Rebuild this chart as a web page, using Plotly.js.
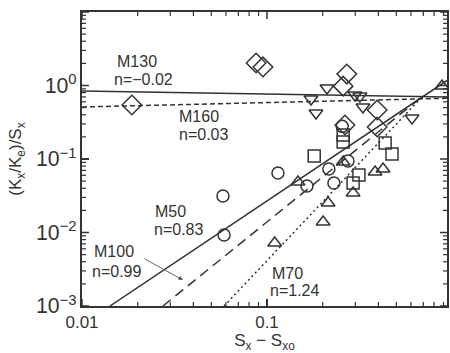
<!DOCTYPE html>
<html>
<head>
<meta charset="utf-8">
<script src="https://cdn.plot.ly/plotly-3.0.1.min.js"></script>
<style>html,body{margin:0;padding:0;background:#fff;}#chart{width:450px;height:353px;}</style>
</head>
<body>
<div id="chart"></div>
<script>
// ---- data ----
var diamondX = [0.0186, 0.0873, 0.0951, 0.270, 0.258, 0.264, 0.394, 0.394];
var diamondY = [0.543, 2.02, 1.79, 1.43, 0.98, 0.290, 0.465, 0.272];

var triDownX = [0.211, 0.173, 0.184, 0.299, 0.318, 0.330, 0.608];
var triDownY = [0.925, 0.655, 0.423, 0.743, 0.720, 0.509, 0.361];

var squareX = [0.258, 0.258, 0.180, 0.435, 0.474, 0.314, 0.292];
var squareY = [0.212, 0.170, 0.110, 0.165, 0.117, 0.0605, 0.0471];

var circleX = [0.0578, 0.0586, 0.1146, 0.1644, 0.216, 0.274, 0.230, 0.255];
var circleY = [0.0314, 0.00925, 0.0646, 0.0430, 0.0731, 0.094, 0.0471, 0.278];

var triUpX = [0.147, 0.258, 0.214, 0.201, 0.110, 0.292, 0.384, 0.424, 0.883];
var triUpY = [0.0486, 0.091, 0.0252, 0.0139, 0.00719, 0.0344, 0.0665, 0.0731, 0.985];

// fitted lines (end points)
var m130X = [0.01, 0.94], m130Y = [0.84, 0.70];
var m160X = [0.01, 0.94], m160Y = [0.51, 0.67];
var m50X  = [0.01416, 0.94], m50Y = [0.001, 1.17];
var m100X = [0.0274, 0.70], m100Y = [0.001, 0.73];
var m70X  = [0.0586, 0.70], m70Y = [0.001, 0.73];

// axis ticks
var xDecades = [0.01, 0.1];
var yDecades = [0.001, 0.01, 0.1, 1, 10];
var minorDigits = [2, 3, 4, 5, 6, 7, 8, 9];
var yLabelAlias = {'1': '10<sup>0</sup>', '10': '10<sup>1</sup>'};

var labels = [
  {t: 'M130', x: 0.090, y: 0.833},
  {t: 'n=\u22120.02', x: 0.082, y: 0.769},
  {t: 'M160', x: 0.260, y: 0.646},
  {t: 'n=0.03', x: 0.260, y: 0.585},
  {t: 'M50', x: 0.1945, y: 0.323},
  {t: 'n=0.83', x: 0.192, y: 0.259},
  {t: 'M100', x: 0.027, y: 0.184},
  {t: 'n=0.99', x: 0.022, y: 0.119},
  {t: 'M70', x: 0.515, y: 0.112},
  {t: 'n=1.24', x: 0.510, y: 0.054}
];

// ---- styling / layout ----
var ink = '#333333';
var fontFam = 'Liberation Sans, Arial, sans-serif';
var W = 450, H = 353, M = {l: 82, r: 3, t: 12, b: 47};
var plotW = W - M.l - M.r, plotH = H - M.t - M.b;
var xRange = [-2, -0.027], yRange = [-3, 1];

function lineTrace(x, y, dash) {
  return {x: x, y: y, mode: 'lines', type: 'scatter', showlegend: false, hoverinfo: 'skip',
          line: {color: ink, width: 1.5, dash: dash}};
}
function markTrace(x, y, sym, size) {
  return {x: x, y: y, mode: 'markers', type: 'scatter', showlegend: false,
          marker: {symbol: sym, size: size, color: ink, line: {color: ink, width: 1.5}}};
}

var data = [
  lineTrace(m130X, m130Y, 'solid'),
  lineTrace(m160X, m160Y, '5px,3px'),
  lineTrace(m50X, m50Y, 'solid'),
  lineTrace(m100X, m100Y, '10px,6px'),
  lineTrace(m70X, m70Y, '2px,3px'),
  markTrace(diamondX, diamondY, 'diamond-open', 15),
  markTrace(triDownX, triDownY, 'triangle-down-open', 12),
  markTrace(squareX, squareY, 'square-open', 12),
  markTrace(circleX, circleY, 'circle-open', 12),
  markTrace(triUpX, triUpY, 'triangle-up-open', 12)
];

var annotations = labels.map(function (l) {
  return {text: l.t, x: l.x, y: l.y, xref: 'paper', yref: 'paper', xanchor: 'left', yanchor: 'middle',
          showarrow: false, font: {family: fontFam, size: 16, color: ink}};
});
annotations.push({text: '', x: 0.2767, y: 0.0884, xref: 'paper', yref: 'paper', showarrow: true,
  ax: -40, ay: -22, arrowhead: 2, arrowsize: 1, arrowwidth: 0.9, arrowcolor: '#555'});

// inside tick marks on all four sides (drawn as paper-referenced shapes)
function toPaper(v, r) { return (Math.log10(v) - r[0]) / (r[1] - r[0]); }
var shapes = [];
function addTicks(decades, range, isX) {
  decades.forEach(function (d) {
    var vals = [{v: d, len: 7}];
    minorDigits.forEach(function (k) { vals.push({v: d * k, len: 4}); });
    vals.forEach(function (t) {
      var p = toPaper(t.v, range);
      if (p < -0.001 || p > 1.001) return;
      var st = {type: 'line', xref: 'paper', yref: 'paper', layer: 'above',
                line: {color: ink, width: t.len > 5 ? 1.5 : 1.2}};
      if (isX) {
        var dy = t.len / plotH;
        shapes.push(Object.assign({x0: p, x1: p, y0: 0, y1: dy}, st));
        shapes.push(Object.assign({x0: p, x1: p, y0: 1, y1: 1 - dy}, st));
      } else {
        var dx = t.len / plotW;
        shapes.push(Object.assign({y0: p, y1: p, x0: 0, x1: dx}, st));
        shapes.push(Object.assign({y0: p, y1: p, x0: 1, x1: 1 - dx}, st));
      }
    });
  });
}
addTicks(xDecades, xRange, true);
addTicks(yDecades, yRange, false);

function makeAxis(extra) {
  var a = {
    type: 'log', showline: true, linecolor: ink, linewidth: 2, mirror: true,
    ticks: 'inside', ticklen: 7, tickwidth: 1.5, tickcolor: ink, showgrid: false, zeroline: false,
    dtick: 1, exponentformat: 'power',
    tickfont: {family: fontFam, size: 17, color: ink}
  };
  return Object.assign(a, extra);
}

var layout = {
  width: W, height: H,
  margin: M,
  paper_bgcolor: '#fff', plot_bgcolor: '#fff',
  showlegend: false,
  xaxis: makeAxis({
    range: xRange, exponentformat: 'none',
    title: {text: 'S<sub>x</sub> \u2212 S<sub>xo</sub>', standoff: 6,
            font: {family: fontFam, size: 17, color: ink}}
  }),
  yaxis: makeAxis({
    range: yRange, labelalias: yLabelAlias,
    title: {text: '(K<sub>x</sub>/K<sub>e</sub>)/S<sub>x</sub>', standoff: 10,
            font: {family: fontFam, size: 17, color: ink}}
  }),
  annotations: annotations,
  shapes: shapes
};

Plotly.newPlot('chart', data, layout, {displayModeBar: false, staticPlot: true});
</script>
</body>
</html>
